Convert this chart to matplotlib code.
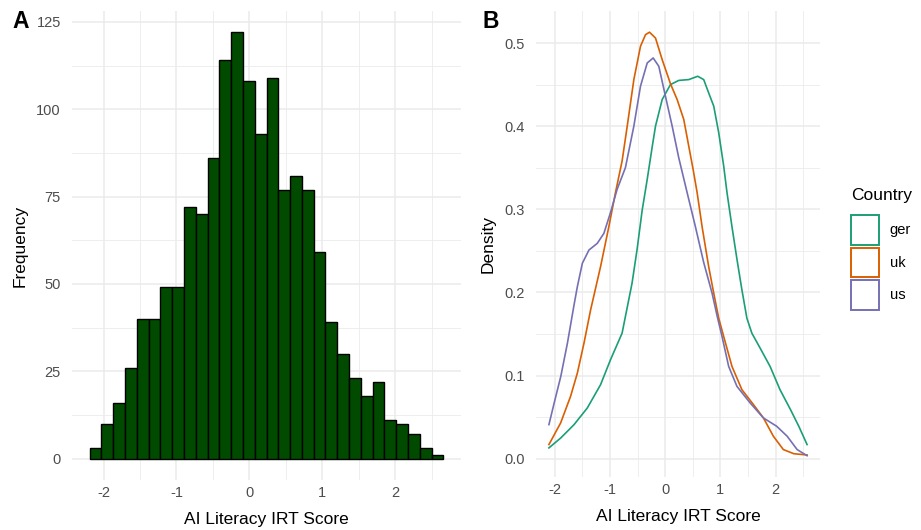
import numpy as np
import matplotlib
matplotlib.use('Agg')
import matplotlib.pyplot as plt
from matplotlib.patches import Patch

plt.rcParams['font.family'] = ['Liberation Sans', 'DejaVu Sans']
plt.rcParams['axes.unicode_minus'] = False

# ── Panel A: histogram of AI literacy IRT scores (30 bins) ──
BIN_LO, BIN_HI = -2.19, 2.66
COUNTS = [3, 10, 16, 26, 40, 40, 49, 49, 72, 70,
          86, 114, 122, 108, 93, 109, 77, 81, 77, 59,
          39, 30, 23, 18, 22, 11, 10, 7, 3, 1]

# ── Panel B: density of IRT score per country ──
GER_X = [-2.105, -1.89, -1.65, -1.41, -1.17, -0.99, -0.78, -0.72, -0.60, -0.51,
         -0.416, -0.325, -0.235, -0.175, -0.054, 0.096, 0.246, 0.427, 0.59, 0.698,
         0.788, 0.88, 0.97, 1.06, 1.12, 1.21, 1.30, 1.39, 1.48, 1.57,
         1.72, 1.90, 2.08, 2.27, 2.42, 2.57]
GER_Y = [0.013, 0.025, 0.041, 0.061, 0.089, 0.119, 0.151, 0.171, 0.211, 0.251,
         0.299, 0.336, 0.375, 0.400, 0.432, 0.450, 0.455, 0.456, 0.460, 0.456,
         0.440, 0.424, 0.392, 0.352, 0.320, 0.279, 0.240, 0.203, 0.169, 0.151,
         0.133, 0.111, 0.083, 0.059, 0.039, 0.017]

UK_X = [-2.105, -1.893, -1.713, -1.59, -1.47, -1.35, -1.17, -1.02, -0.90, -0.78,
        -0.687, -0.567, -0.447, -0.356, -0.284, -0.175, -0.054, 0.096, 0.217, 0.337,
        0.427, 0.506, 0.579, 0.669, 0.788, 0.88, 0.97, 1.06, 1.21, 1.39,
        1.60, 1.78, 1.96, 2.14, 2.33, 2.57]
UK_Y = [0.017, 0.043, 0.075, 0.103, 0.139, 0.179, 0.231, 0.279, 0.320, 0.358,
        0.400, 0.456, 0.496, 0.510, 0.513, 0.506, 0.480, 0.451, 0.432, 0.408,
        0.376, 0.348, 0.320, 0.279, 0.231, 0.199, 0.169, 0.147, 0.111, 0.083,
        0.065, 0.049, 0.027, 0.011, 0.006, 0.0045]

US_X = [-2.105, -2.01, -1.89, -1.77, -1.65, -1.59, -1.50, -1.38, -1.23, -1.11,
        -0.99, -0.87, -0.72, -0.567, -0.447, -0.325, -0.217, -0.115, 0.005, 0.127,
        0.246, 0.398, 0.548, 0.698, 0.85, 0.94, 1.03, 1.15, 1.30, 1.54,
        1.78, 2.02, 2.21, 2.39, 2.57]
US_Y = [0.041, 0.067, 0.099, 0.139, 0.185, 0.207, 0.235, 0.251, 0.259, 0.271,
        0.296, 0.324, 0.350, 0.400, 0.448, 0.476, 0.482, 0.472, 0.436, 0.400,
        0.362, 0.320, 0.279, 0.236, 0.199, 0.172, 0.147, 0.111, 0.087, 0.067,
        0.049, 0.039, 0.027, 0.011, 0.0036]

COUNTRIES = ['ger', 'uk', 'us']
COLORS = {'ger': '#1B9E77', 'uk': '#D95F02', 'us': '#7570B3'}

GRID_MAJOR = '#EBEBEB'
TICK_COL = '#4D4D4D'


def style_axis(ax, xmajor, xminor, ymajor, yminor):
    for s in ax.spines.values():
        s.set_visible(False)
    ax.set_xticks(xmajor)
    ax.set_xticks(xminor, minor=True)
    ax.set_yticks(ymajor)
    ax.set_yticks(yminor, minor=True)
    ax.tick_params(which='both', length=0, colors=TICK_COL, labelsize=10.5)
    ax.tick_params(axis='x', pad=4)
    ax.tick_params(axis='y', pad=8)
    ax.grid(which='major', color=GRID_MAJOR, linewidth=1.1)
    ax.grid(which='minor', color=GRID_MAJOR, linewidth=0.6)
    ax.set_axisbelow(True)


fig = plt.figure(figsize=(9.21, 5.30), dpi=100)
W, H = 921, 530

# Panel A
axA = fig.add_axes([72 / W, 1 - 480 / H, (461 - 72) / W, (480 - 11) / H])
edges = np.linspace(BIN_LO, BIN_HI, len(COUNTS) + 1)
axA.bar(edges[:-1], COUNTS, width=np.diff(edges), align='edge',
        color='#004B00', edgecolor='black', linewidth=1.0, zorder=2)
axA.set_xlim(-2.4325, 2.9025)
axA.set_ylim(-6.1, 128.1)
style_axis(axA, [-2, -1, 0, 1, 2], [-1.5, -0.5, 0.5, 1.5, 2.5],
           [0, 25, 50, 75, 100, 125], [12.5, 37.5, 62.5, 87.5, 112.5])
axA.set_xlabel('AI Literacy IRT Score', fontsize=12.5, labelpad=9)
axA.set_ylabel('Frequency', fontsize=12.5, labelpad=6)

# Panel B
axB = fig.add_axes([536 / W, 1 - 477 / H, (820 - 536) / W, (477 - 11) / H])
for c, xs, ys in zip(COUNTRIES, [GER_X, UK_X, US_X], [GER_Y, UK_Y, US_Y]):
    axB.plot(xs, ys, color=COLORS[c], linewidth=1.2, zorder=2)
axB.set_xlim(-2.339, 2.804)
axB.set_ylim(-0.022, 0.5385)
style_axis(axB, [-2, -1, 0, 1, 2], [-1.5, -0.5, 0.5, 1.5, 2.5],
           [0.0, 0.1, 0.2, 0.3, 0.4, 0.5], [0.05, 0.15, 0.25, 0.35, 0.45])
axB.set_yticklabels(['0.0', '0.1', '0.2', '0.3', '0.4', '0.5'])
axB.set_xlabel('AI Literacy IRT Score', fontsize=12.5, labelpad=9)
axB.set_ylabel('Density', fontsize=12.5, labelpad=6)

# Legend with outlined keys; title drawn separately for a wider gap
handles = [Patch(facecolor='white', edgecolor=COLORS[c], linewidth=1.4,
                 label=c) for c in COUNTRIES]
fig.legend(handles=handles, loc='upper left',
           bbox_to_anchor=(851 / W, 1 - 215 / H), frameon=False,
           fontsize=10.5, handlelength=1.95, handleheight=2.75,
           labelspacing=0.2, handletextpad=0.7, borderaxespad=0,
           borderpad=0)
fig.text(851 / W, 1 - 196 / H, 'Country', fontsize=12.5,
         va='center', ha='left')

fig.text(12 / W, 1 - 21 / H, 'A', fontsize=16.5, fontweight='bold',
         va='center', ha='left')
fig.text(482 / W, 1 - 21 / H, 'B', fontsize=16.5, fontweight='bold',
         va='center', ha='left')

fig.savefig('out.png', dpi=100)
